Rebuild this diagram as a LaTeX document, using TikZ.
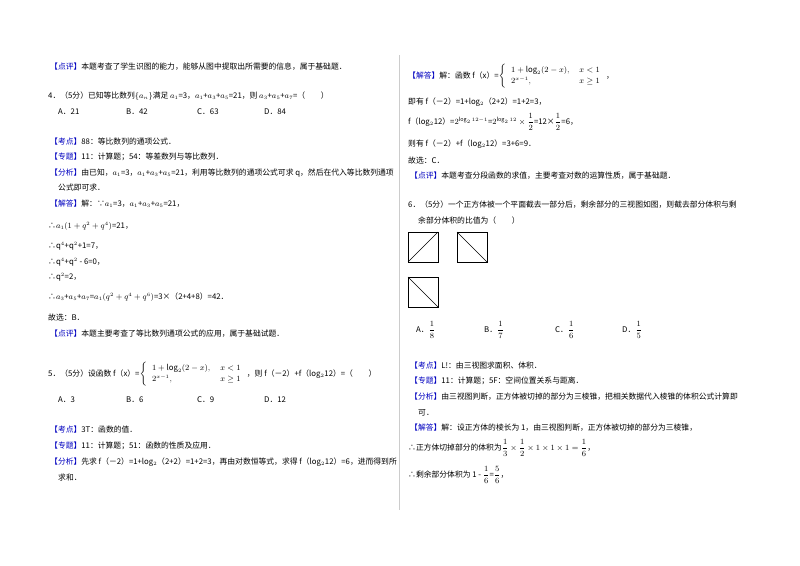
\documentclass[tikz,border=0pt]{standalone}
\usepackage{fontspec}
\setmainfont{Noto Sans CJK SC}
\newcommand{\fr}[2]{{\displaystyle\frac{#1}{#2}}}
\begin{document}
\begin{tikzpicture}[x=1pt,y=-1pt,
 t/.style={anchor=west,inner sep=0pt,font=\fontsize{7.8}{9.5}\selectfont},
 sq/.style={draw,line width=0.6pt}]
\useasboundingbox (0,0) rectangle (800,565);
\newcommand{\lb}[1]{{\color{blue!75!black}【#1】}}
\draw[gray!40,line width=0.4pt] (399,55) -- (399,510);
% left column
\node[t] (l1) at (50,67) {\lb{点评}本题考查了学生识图的能力，能够从图中提取出所需要的信息，属于基础题．};
\node[t] (l2) at (48,96) {4．（5分）已知等比数列$\{a_n\}$满足 $a_1$=3，$a_1$+$a_3$+$a_5$=21，则 $a_3$+$a_5$+$a_7$=（\qquad）};
\node[t] (l3a) at (58,112) {A．21};
\node[t] (l3b) at (126,112) {B．42};
\node[t] (l3c) at (197,112) {C．63};
\node[t] (l3d) at (264,112) {D．84};
\node[t] (l4) at (50,142) {\lb{考点}88：等比数列的通项公式．};
\node[t] (l5) at (50,157) {\lb{专题}11：计算题；54：等差数列与等比数列．};
\node[t] (l6) at (50,173) {\lb{分析}由已知，$a_1$=3，$a_1$+$a_3$+$a_5$=21，利用等比数列的通项公式可求 q，然后在代入等比数列通项};
\node[t] (l7) at (58,188) {公式即可求．};
\node[t] (l8) at (50,204) {\lb{解答}解：∵$a_1$=3，$a_1$+$a_3$+$a_5$=21，};
\node[t] (l9) at (48,226) {∴$a_1(1+q^2+q^4)$=21，};
\node[t] (l10) at (48,246) {∴q$^4$+q$^2$+1=7，};
\node[t] (l11) at (48,262) {∴q$^4$+q$^2$ - 6=0，};
\node[t] (l12) at (48,277) {∴q$^2$=2，};
\node[t] (l13) at (48,297) {∴$a_3$+$a_5$+$a_7$=$a_1(q^2+q^4+q^6)$=3×（2+4+8）=42．};
\node[t] (l14) at (48,318) {故选：B．};
\node[t] (l15) at (50,334) {\lb{点评}本题主要考查了等比数列通项公式的应用，属于基础试题．};
\node[t] (l16) at (48,374) {5．（5分）设函数 f（x）=$\left\{\begin{array}{ll}1+\log_2(2-x), & x<1\\[2pt] 2^{x-1}, & x\geq 1\end{array}\right.$，则 f（－2）+f（log$_2$12）=（\qquad）};
\node[t] (l17a) at (58,400) {A．3};
\node[t] (l17b) at (126,400) {B．6};
\node[t] (l17c) at (197,400) {C．9};
\node[t] (l17d) at (264,400) {D．12};
\node[t] (l18) at (50,430) {\lb{考点}3T：函数的值．};
\node[t] (l19) at (50,446) {\lb{专题}11：计算题；51：函数的性质及应用．};
\node[t] (l20) at (50,462) {\lb{分析}先求 f（－2）=1+log$_2$（2+2）=1+2=3，再由对数恒等式，求得 f（log$_2$12）=6，进而得到所};
\node[t] (l21) at (58,478) {求和．};
% right column
\node[t] (r1) at (408,76) {\lb{解答}解：函数 f（x）=$\left\{\begin{array}{ll}1+\log_2(2-x), & x<1\\[2pt] 2^{x-1}, & x\geq 1\end{array}\right.$，};
\node[t] (r2) at (408,102) {即有 f（－2）=1+log$_2$（2+2）=1+2=3，};
\node[t] (r3) at (408,122) {f（log$_2$12）=$2^{\log_2 12-1}$=$2^{\log_2 12}\times\fr{1}{2}$=12×$\fr{1}{2}$=6，};
\node[t] (r4) at (408,144) {则有 f（－2）+f（log$_2$12）=3+6=9．};
\node[t] (r5) at (408,161) {故选：C．};
\node[t] (r6) at (410,176) {\lb{点评}本题考查分段函数的求值，主要考查对数的运算性质，属于基础题．};
\node[t] (r7) at (408,205) {6．（5分）一个正方体被一个平面截去一部分后，剩余部分的三视图如图，则截去部分体积与剩};
\node[t] (r8) at (418,221) {余部分体积的比值为（\qquad）};
\draw[sq] (408,232) rectangle (438,262); \draw (408,262) -- (438,232);
\draw[sq] (457,232) rectangle (487,262); \draw (457,232) -- (487,262);
\draw[sq] (408,277) rectangle (438,307); \draw (408,277) -- (438,307);
\node[t] (r9a) at (416,330) {A．$\fr{1}{8}$};
\node[t] (r9b) at (484,330) {B．$\fr{1}{7}$};
\node[t] (r9c) at (555,330) {C．$\fr{1}{6}$};
\node[t] (r9d) at (622,330) {D．$\fr{1}{5}$};
\node[t] (r10) at (410,366) {\lb{考点}L!：由三视图求面积、体积．};
\node[t] (r11) at (410,381) {\lb{专题}11：计算题；5F：空间位置关系与距离．};
\node[t] (r12) at (410,397) {\lb{分析}由三视图判断，正方体被切掉的部分为三棱锥，把相关数据代入棱锥的体积公式计算即};
\node[t] (r13) at (418,413) {可．};
\node[t] (r14) at (410,428) {\lb{解答}解：设正方体的棱长为 1，由三视图判断，正方体被切掉的部分为三棱锥，};
\node[t] (r15) at (408,448) {∴正方体切掉部分的体积为$\fr{1}{3}\times\fr{1}{2}\times1\times1\times1=\fr{1}{6}$，};
\node[t] (r16) at (408,475) {∴剩余部分体积为 1 - $\fr{1}{6}$=$\fr{5}{6}$，};
\end{tikzpicture}
\end{document}
